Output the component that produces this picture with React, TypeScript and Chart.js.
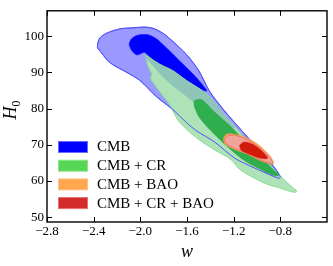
import { useEffect, useRef } from "react";
import { Chart, registerables } from "chart.js";

Chart.register(...registerables);

type P = [number, number];

const xRange: P = [-2.8, -0.4];
const yRange: P = [48.7, 107];
const xTicks = [-2.8, -2.4, -2.0, -1.6, -1.2, -0.8];
const yTicks = [50, 60, 70, 80, 90, 100];

// CMB 2-sigma (outer) contour
const cmbOuter: P[] = [
  [-2.367, 96.8], [-2.367, 97.7], [-2.347, 99.5], [-2.29, 100.8], [-2.176, 102.0],
  [-2.062, 102.3], [-1.962, 102.5], [-1.891, 102.15], [-1.806, 100.8], [-1.72, 98.5],
  [-1.606, 95.0], [-1.5, 90.5], [-1.407, 84.8], [-1.279, 79.4], [-1.133, 74.0],
  [-1.022, 70.0], [-0.92, 66.5], [-0.834, 63.0], [-0.8, 61.1], [-0.81, 60.75],
  [-0.88, 61.6], [-1.02, 63.6], [-1.19, 66.3], [-1.364, 70.8], [-1.52, 73.9],
  [-1.606, 76.2], [-1.72, 79.7], [-1.862, 83.3], [-2.005, 87.8], [-2.119, 90.05],
  [-2.262, 92.74],
];
// CMB 1-sigma (inner) contour
const cmbInner: P[] = [
  [-2.097, 97.66], [-2.082, 99.0], [-2.039, 100.08], [-1.988, 100.43], [-1.928, 100.35],
  [-1.862, 99.27], [-1.777, 96.77], [-1.663, 93.17], [-1.55, 89.6], [-1.464, 86.45],
  [-1.43, 84.9], [-1.47, 85.1], [-1.56, 86.3], [-1.68, 88.8], [-1.8, 91.0],
  [-1.877, 93.0], [-1.962, 95.5], [-1.988, 95.3], [-2.031, 94.84], [-2.074, 96.05],
];
// CMB + CR 2-sigma
const crOuter: P[] = [
  [-1.962, 94.97], [-1.834, 92.28], [-1.721, 90.48], [-1.606, 87.8], [-1.425, 83.9],
  [-1.295, 79.0], [-1.15, 73.6], [-1.038, 69.6], [-0.935, 66.1], [-0.85, 63.1],
  [-0.805, 61.6], [-0.749, 59.76], [-0.697, 58.28], [-0.659, 57.2], [-0.68, 56.88],
  [-0.749, 57.47], [-0.809, 58.15], [-0.92, 59.22], [-1.039, 61.1], [-1.15, 63.25],
  [-1.221, 65.86], [-1.364, 68.63], [-1.492, 71.32], [-1.603, 74.27], [-1.68, 76.96],
  [-1.749, 81.08], [-1.834, 84.68], [-1.885, 86.9], [-1.911, 88.25], [-1.903, 89.6],
  [-1.928, 91.2], [-1.945, 92.8], [-1.954, 94.4],
];
// part of CMB + CR 2-sigma lying over the CMB region
const crOverlap: P[] = [
  [-1.962, 94.97], [-1.834, 92.28], [-1.721, 90.48], [-1.606, 87.8], [-1.425, 83.9],
  [-1.295, 79.0], [-1.185, 74.54], [-1.279, 75.6], [-1.45, 79.4], [-1.544, 81.8],
  [-1.663, 84.76], [-1.791, 88.25], [-1.905, 92.28], [-1.945, 93.6],
];
// CMB + CR 1-sigma
const crInner: P[] = [
  [-1.541, 82.0], [-1.518, 82.47], [-1.467, 82.34], [-1.379, 79.5], [-1.21, 74.6],
  [-1.06, 69.6], [-0.94, 65.8], [-0.85, 62.8], [-0.815, 62.0], [-0.823, 61.37],
  [-0.894, 62.0], [-0.954, 63.0], [-1.091, 65.3], [-1.236, 69.0], [-1.381, 73.47],
  [-1.492, 77.5], [-1.535, 80.46],
];
// CMB + BAO
const baoOuter: P[] = [
  [-1.287, 71.85], [-1.261, 72.93], [-1.193, 72.9], [-1.13, 72.4], [-1.013, 70.6],
  [-0.9, 67.35], [-0.858, 64.85], [-0.94, 65.25], [-1.085, 67.5], [-1.2, 68.85],
  [-1.275, 70.3],
];
// CMB + CR + BAO 2-sigma
const crBaoOuter: P[] = [
  [-1.279, 71.67], [-1.25, 72.58], [-1.193, 72.66], [-1.136, 72.12], [-1.022, 70.32],
  [-0.909, 67.2], [-0.866, 64.95], [-0.937, 65.4], [-1.08, 67.63], [-1.193, 68.98],
  [-1.264, 70.32],
];
// CMB + CR + BAO 1-sigma
const crBaoInner: P[] = [
  [-1.15, 69.9], [-1.108, 70.78], [-1.022, 69.9], [-0.937, 67.63], [-0.909, 66.29],
  [-0.965, 66.29], [-1.08, 67.63], [-1.136, 68.55],
];

const legendLabels = ["CMB", "CMB + CR", "CMB + BAO", "CMB + CR + BAO"];
const legendColors = ["#0000ff", "#55d655", "#ffa64f", "#d42a2a"];
const legendEdges = ["#6a6aff", "#8ee48e", "#ffc48a", "#e57070"];

const SERIF = "'Liberation Serif', 'DejaVu Serif', serif";

const fmt = (v: number) => (v < 0 ? "\u2212" : "") + Math.abs(v).toFixed(1);

const closed = (pts: P[]) => [...pts, pts[0]].map(([x, y]) => ({ x, y }));

const layers = [
  { data: cmbOuter, fill: "#9999ff", line: "#6262ff", width: 1 },
  { data: cmbInner, fill: "#0000ff", line: "#2020ff", width: 0.8 },
  { data: crOuter, fill: "#aee3b8", line: "#88dc8c", width: 1 },
  { data: crOverlap, fill: "#8fc4b8", line: "rgba(0,0,0,0)", width: 0.5 },
  { data: crInner, fill: "#2eae4c", line: "#2aa046", width: 0.6 },
  { data: cmbOuter, fill: null, line: "#5050ff", width: 1 },
  { data: baoOuter, fill: "#ffa64f", line: "#ff9a40", width: 0.8 },
  { data: crBaoOuter, fill: "#f2a39c", line: "#e8786c", width: 1 },
  { data: crBaoInner, fill: "#d41a0a", line: "#cc2010", width: 0.6 },
];

const framePlugin = {
  id: "frame",
  afterDraw(chart: any) {
    const { ctx, chartArea: a, scales } = chart;
    const xs = scales.x;
    const ys = scales.y;
    ctx.save();
    ctx.strokeStyle = "#000";
    ctx.lineWidth = 1;
    ctx.beginPath();
    xTicks.forEach((v) => {
      const px = Math.round(xs.getPixelForValue(v)) + 0.5;
      ctx.moveTo(px, a.bottom);
      ctx.lineTo(px, a.bottom - 5);
      ctx.moveTo(px, a.top);
      ctx.lineTo(px, a.top + 5);
    });
    yTicks.forEach((v) => {
      const py = Math.round(ys.getPixelForValue(v)) + 0.5;
      ctx.moveTo(a.left, py);
      ctx.lineTo(a.left + 5, py);
      ctx.moveTo(a.right, py);
      ctx.lineTo(a.right - 5, py);
    });
    ctx.stroke();
    ctx.lineWidth = 1.4;
    ctx.strokeRect(a.left, a.top, a.right - a.left, a.bottom - a.top);

    // legend
    legendLabels.forEach((lab, i) => {
      const cy = 147 + i * 18.7;
      ctx.fillStyle = legendColors[i];
      ctx.fillRect(58.5, cy - 5.5, 29, 11);
      ctx.strokeStyle = legendEdges[i];
      ctx.lineWidth = 1;
      ctx.strokeRect(58.5, cy - 5.5, 29, 11);
      ctx.fillStyle = "#000";
      ctx.font = `15px ${SERIF}`;
      ctx.textAlign = "left";
      ctx.textBaseline = "middle";
      ctx.fillText(lab, 97, cy + 0.5);
    });

    // x title
    ctx.fillStyle = "#000";
    ctx.font = `italic 18px ${SERIF}`;
    ctx.textAlign = "center";
    ctx.textBaseline = "alphabetic";
    ctx.fillText("w", (a.left + a.right) / 2, 256.5);

    // y title H_0
    ctx.save();
    ctx.translate(16, 110);
    ctx.rotate(-Math.PI / 2);
    ctx.font = `italic 18px ${SERIF}`;
    const wH = ctx.measureText("H").width;
    ctx.font = `12px ${SERIF}`;
    const w0 = ctx.measureText("0").width;
    const start = -(wH + w0) / 2;
    ctx.textAlign = "left";
    ctx.font = `italic 18px ${SERIF}`;
    ctx.fillText("H", start, 0);
    ctx.font = `12px ${SERIF}`;
    ctx.fillText("0", start + wH, 3.5);
    ctx.restore();

    ctx.restore();
  },
};

export default function App() {
  const ref = useRef<HTMLCanvasElement | null>(null);
  useEffect(() => {
    if (!ref.current) return;
    const n = layers.length;
    const chart = new Chart(ref.current, {
      type: "scatter",
      data: {
        datasets: layers.map((l, i) => ({
          data: closed(l.data),
          showLine: true,
          fill: l.fill ? "shape" : false,
          backgroundColor: l.fill || "rgba(0,0,0,0)",
          borderColor: l.line,
          borderWidth: l.width,
          pointRadius: 0,
          pointHoverRadius: 0,
          tension: 0.3,
          order: n - i,
        })),
      } as any,
      options: {
        responsive: false,
        animation: false,
        devicePixelRatio: 1,
        layout: { padding: { top: 5, right: 6, left: 0, bottom: 0 } },
        plugins: { legend: { display: false }, tooltip: { enabled: false } },
        events: [],
        scales: {
          x: {
            type: "linear",
            min: xRange[0],
            max: xRange[1],
            grid: { display: false, drawTicks: false },
            border: { display: false },
            ticks: {
              color: "#000",
              font: { family: SERIF, size: 13 },
              padding: 2,
              maxRotation: 0,
              autoSkip: false,
              callback: (v: any) => fmt(Number(v)),
            },
            afterBuildTicks: (s: any) => {
              s.ticks = xTicks.map((v) => ({ value: v }));
            },
            afterFit: (s: any) => {
              s.height = 44;
            },
          },
          y: {
            type: "linear",
            min: yRange[0],
            max: yRange[1],
            grid: { display: false, drawTicks: false },
            border: { display: false },
            ticks: {
              color: "#000",
              font: { family: SERIF, size: 13 },
              padding: 3,
              autoSkip: false,
              callback: (v: any) => String(v),
            },
            afterBuildTicks: (s: any) => {
              s.ticks = yTicks.map((v) => ({ value: v }));
            },
            afterFit: (s: any) => {
              s.width = 47;
            },
          },
        },
      } as any,
      plugins: [framePlugin],
    });
    return () => chart.destroy();
  }, []);
  return (
    <div style={{ position: "absolute", left: 0, top: 0, width: 333, height: 266 }}>
      <canvas ref={ref} width={333} height={266} style={{ display: "block" }} />
    </div>
  );
}
